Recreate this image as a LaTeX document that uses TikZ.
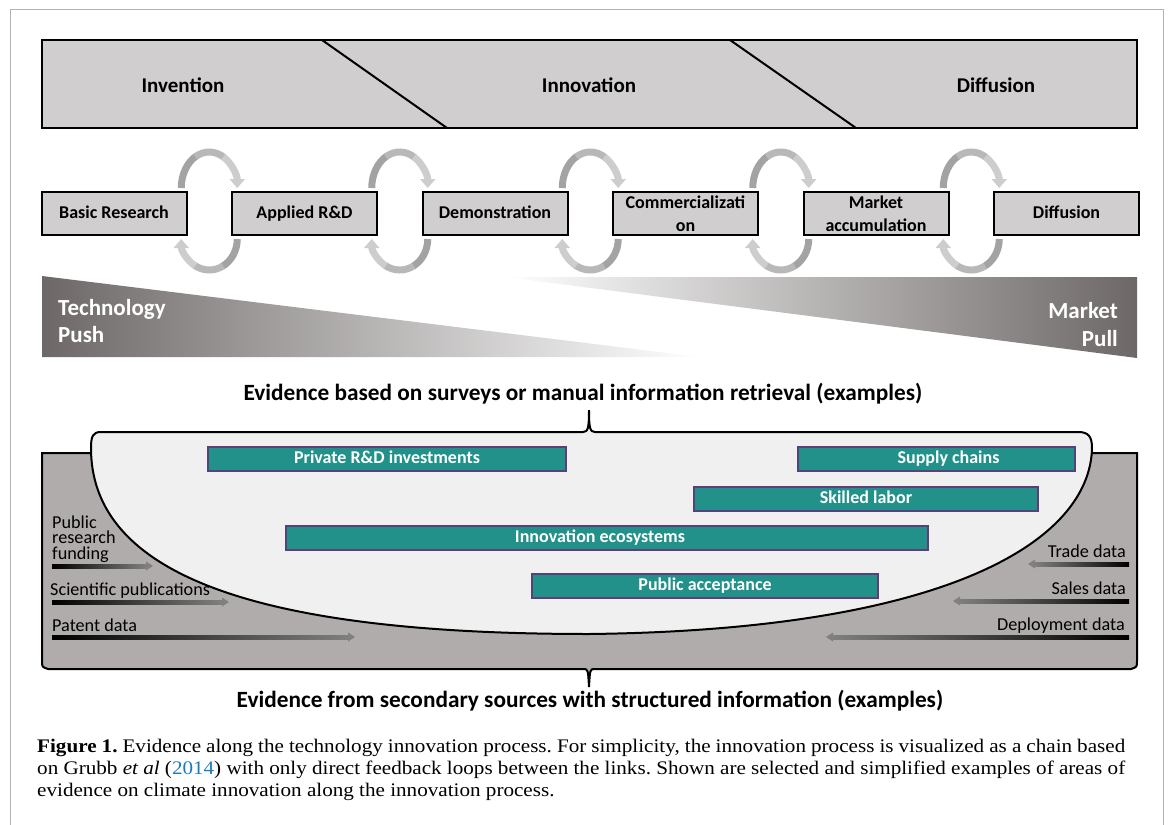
\documentclass[tikz,border=0pt]{standalone}
\usepackage{fontspec}
\setmainfont{Liberation Serif}
\newfontfamily\carlito{Carlito}
\newfontfamily\capfont{Liberation Serif}[FakeStretch=1.1]
\usepackage{tikz}
\usetikzlibrary{arrows.meta,calc}
\definecolor{boxgray}{HTML}{D0CECF}
\definecolor{lensgray}{HTML}{F0F0F0}
\definecolor{areagray}{HTML}{B0ACAB}
\definecolor{cteal}{HTML}{21918A}
\definecolor{cpurple}{HTML}{5B3F78}
\definecolor{pushgray}{HTML}{6D6867}
\definecolor{loopdark}{HTML}{A3A3A3}
\definecolor{loopmid}{HTML}{B8B8B8}
\definecolor{looplight}{HTML}{CDCDCD}
\definecolor{cblue}{HTML}{1A7BBF}

\begin{document}
\begin{tikzpicture}[x=1pt,y=-1pt,node distance=190.5pt,
  phase node/.style={font=\carlito\bfseries\fontsize{21}{25}\selectfont},
  stage node/.style={draw,line width=2pt,fill=boxgray,minimum width=145pt,minimum height=43pt,
    inner sep=0pt,align=center,font=\carlito\bfseries\fontsize{18}{23}\selectfont},
  one line/.style={text height=13.5pt,text depth=3.5pt},
  push node/.style={text=white,inner sep=0pt,font=\carlito\bfseries\fontsize{23}{27}\selectfont},
  title node/.style={inner sep=0pt,anchor=base,font=\carlito\bfseries\fontsize{23.3}{27}\selectfont},
  bar node/.style={draw=cpurple,line width=1.2pt,fill=cteal,text=white,minimum height=24pt,
    inner sep=0pt,text height=12pt,text depth=3pt,font=\carlito\bfseries\fontsize{18}{20}\selectfont},
  data node/.style={inner sep=0pt,font=\carlito\fontsize{18.2}{15.5}\selectfont},
  loop/.style={line width=7pt},
  loop tip/.style={-{Triangle[width=15pt,length=9pt]}}]
  \useasboundingbox (0,0) rectangle (1171,825);
  \draw[gray!60,line width=1pt] (10,825) -- (10,9) -- (1163,9) -- (1163,825);

  % phases
  \draw[line width=2.5pt,fill=boxgray] (42,40) rectangle (1137,128);
  \draw[line width=2pt] (322,40) -- (447,128);
  \draw[line width=2pt] (730,40) -- (856,128);
  \node[phase node] (inv) at (183,85) {Invention};
  \node[phase node] (inno) at (589,85) {Innovation};
  \node[phase node] (dif) at (996,85) {Diffusion};

  % chain
  \node[stage node,one line] (basic) at (114,213.5) {Basic Research};
  \node[stage node,one line] (applied) [right of=basic] {Applied R\&D};
  \node[stage node,one line] (demo) [right of=applied] {Demonstration};
  \node[stage node] (comm) [right of=demo] {Commercializati\\on};
  \node[stage node] (market) [right of=comm] {Market\\accumulation};
  \node[stage node,one line] (diffu) [right of=market] {Diffusion};

  \foreach \a/\b in {basic/applied,applied/demo,demo/comm,comm/market,market/diffu}{
    \coordinate (lt) at ($(\a.north east)!0.5!(\b.north west)+(0,-3)$);
    \coordinate (lb) at ($(\a.south east)!0.5!(\b.south west)+(0,3)$);
    \draw[loop,loopdark] ($(lt)+(-28,0)$) arc[start angle=180,end angle=118,x radius=28pt,y radius=36pt];
    \draw[loop,loopmid] ($(lt)+(120:28pt and 36pt)$) arc[start angle=120,end angle=58,x radius=28pt,y radius=36pt];
    \draw[loop,loop tip,looplight] ($(lt)+(60:28pt and 36pt)$) arc[start angle=60,end angle=0,x radius=28pt,y radius=36pt];
    \draw[loop,loopdark] ($(lb)+(28,0)$) arc[start angle=0,end angle=-62,x radius=28pt,y radius=31pt];
    \draw[loop,loopmid] ($(lb)+(-60:28pt and 31pt)$) arc[start angle=-60,end angle=-122,x radius=28pt,y radius=31pt];
    \draw[loop,loop tip,looplight] ($(lb)+(-120:28pt and 31pt)$) arc[start angle=-120,end angle=-180,x radius=28pt,y radius=31pt];
  }

  % push and pull
  \shade[left color=pushgray,right color=white] (42,276) -- (700,357) -- (42,357) -- cycle;
  \shade[left color=white,right color=pushgray] (505,277) -- (1137,277) -- (1137,358) -- cycle;
  \node[push node,anchor=base west] (tech) at (58,315) {Technology};
  \node[push node,anchor=base west] (push) at (58,342) {Push};
  \node[push node,anchor=base east] (mkt) at (1118,318) {Market};
  \node[push node,anchor=base east] (pull) at (1118,346) {Pull};

  \node[title node] (survey) at (583,400) {Evidence based on surveys or manual information retrieval (examples)};

  % secondary sources area
  \draw[line width=2pt,fill=areagray] (42,453) -- (42,661) .. controls (42,667) .. (48,669)
    -- (583,669) .. controls (588,669) .. (589,687) .. controls (590,669) .. (595,669)
    -- (1131,669) .. controls (1137,667) .. (1137,661) -- (1137,453) -- cycle;
  % survey lens
  \draw[line width=2pt,fill=lensgray] (91,448) .. controls (91,436) and (93,432) .. (101,432)
    -- (583,432) .. controls (588,432) and (589,428) .. (589,410) .. controls (589,428) and (590,432) .. (595,432)
    -- (1078,432) .. controls (1088,432) and (1092,436) .. (1092,448)
    .. controls (1090,540) and (950,630) .. (589,634)
    .. controls (300,634) and (91,590) .. (91,448) -- cycle;

  \node[bar node,minimum width=358pt] (rd) at (387,459) {Private R\&D investments};
  \node[bar node,minimum width=277pt] (supply) at (936.5,459) {\hspace*{24pt}Supply chains};
  \node[bar node,minimum width=344pt] (labor) at (866,499) {Skilled labor};
  \node[bar node,minimum width=642pt] (eco) at (607,538) {Innovation ecosystems\hspace*{14pt}};
  \node[bar node,minimum width=346pt] (accept) at (705,586) {Public acceptance};

  % data arrows
  \foreach \y/\xe in {566/153,602/229,637/355}{
    \shade[left color=black,right color=gray] (52,\y-2) rectangle (\xe-6,\y+2);
    \fill[gray] (\xe-7,\y-4.5) -- (\xe,\y) -- (\xe-7,\y+4.5) -- cycle;
  }
  \foreach \y/\xe in {564/1028,601/953,637/826}{
    \shade[left color=gray,right color=black] (\xe+6,\y-2) rectangle (1129,\y+2);
    \fill[gray] (\xe+7,\y-4.5) -- (\xe,\y) -- (\xe+7,\y+4.5) -- cycle;
  }
  \node[data node,anchor=base west,align=left] (prf) at (52,559) {Public\\research\\funding};
  \node[data node,anchor=base west] (sci) at (50,595) {Scientific publications};
  \node[data node,anchor=base west] (pat) at (52,631) {Patent data};
  \node[data node,anchor=base east] (trade) at (1126,557) {Trade data};
  \node[data node,anchor=base east] (sales) at (1126,594) {Sales data};
  \node[data node,anchor=base east] (deploy) at (1125,630) {Deployment data};

  \node[title node] (second) at (590,707) {Evidence from secondary sources with structured information (examples)};

  % caption
  \node[anchor=north west,inner sep=0pt,text width=1088pt,align=justify,
    font=\capfont\fontsize{19.2}{22}\selectfont\frenchspacing] (cap) at (37,739)
    {\textbf{Figure 1.} Evidence along the technology innovation process. For simplicity, the innovation process is visualized as a chain based\linebreak
     on Grubb \textit{et al} (\textcolor{cblue}{2014}) with only direct feedback loops between the links. Shown are selected and simplified examples of areas of\linebreak
     evidence on climate innovation along the innovation process.};
\end{tikzpicture}
\end{document}
